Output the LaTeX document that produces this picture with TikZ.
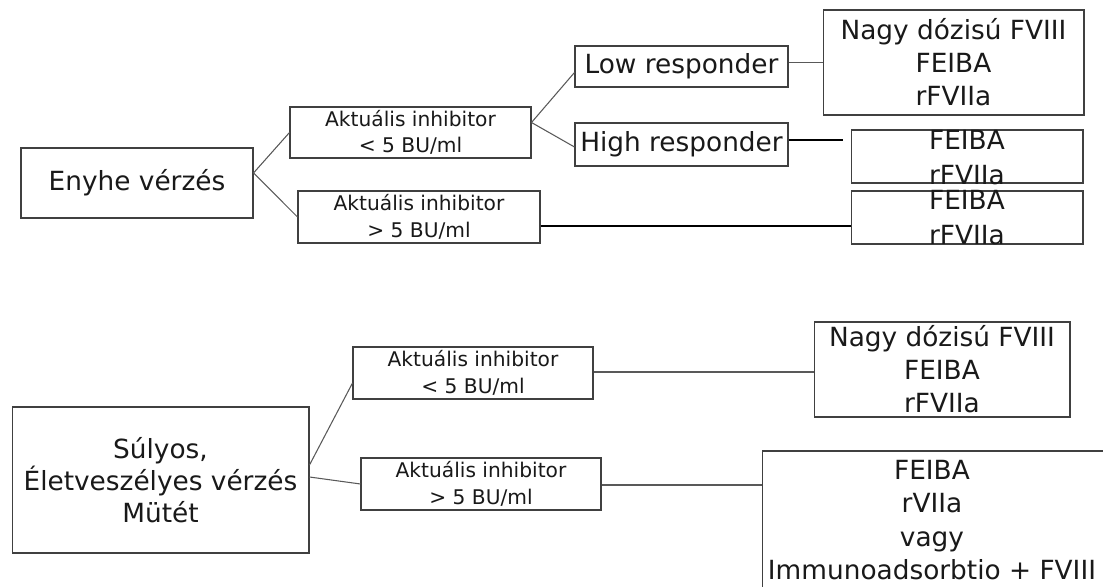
\documentclass[tikz,border=0pt]{standalone}
\usepackage{fontspec}
\setmainfont{DejaVu Sans}
\usetikzlibrary{calc}
\tikzset{
  box/.style={draw=black!75, line width=0.6pt, inner sep=0pt, align=center, text=black!90},
  bigtxt/.style={font=\fontsize{15}{18.7}\selectfont, align=center, text=black!90},
  smalltxt/.style={font=\fontsize{11.5}{15}\selectfont},
  link/.style={draw=black!65, line width=0.6pt},
  heavylink/.style={draw=black, line width=1.1pt}
}
\begin{document}
\begin{tikzpicture}[x=0.02cm,y=-0.02cm]
\clip (0,0) rectangle (1103,587);
\fill[white] (0,0) rectangle (1103,587);

% ---------- top tree ----------
\node[box, bigtxt, minimum width=4.64cm, minimum height=1.4cm] (enyhe) at (137,183) {Enyhe vérzés};
\node[box, smalltxt, minimum width=4.82cm, minimum height=1.02cm] (ltA) at (410.5,132.5) {Aktuális inhibitor\\< 5 BU/ml};
\node[box, smalltxt, minimum width=4.84cm, minimum height=1.04cm] (gtA) at (419,217) {Aktuális inhibitor\\> 5 BU/ml};
\node[box, bigtxt, minimum width=4.26cm, minimum height=0.82cm] (low) at (681.5,66.5) {Low responder};
\node[box, bigtxt, minimum width=4.26cm, minimum height=0.86cm] (high) at (681.5,144.5) {High responder};
\node[box, bigtxt, minimum width=5.22cm, minimum height=2.1cm] (nagyA) at (953.5,62.5) {Nagy dózisú FVIII\\FEIBA\\rFVIIa};
\node[box, minimum width=4.64cm, minimum height=1.06cm] (feibaA) at (967,156.5) {};
\node[bigtxt, font=\fontsize{15}{19.8}\selectfont] at (967,157.5) {FEIBA\\rFVIIa};
\node[box, minimum width=4.64cm, minimum height=1.06cm] (feibaB) at (967,217.5) {};
\node[bigtxt, font=\fontsize{15}{19.8}\selectfont] at (967,217.5) {FEIBA\\rFVIIa};
\coordinate (hend) at (843,140);

\draw[link] ([yshift=0.2cm]enyhe.east) -- (ltA.west);
\draw[link] ([yshift=0.2cm]enyhe.east) -- (gtA.west);
\draw[link] ([yshift=0.2cm]ltA.east) -- ([yshift=-0.12cm]low.west);
\draw[link] ([yshift=0.2cm]ltA.east) -- ([yshift=-0.05cm]high.west);
\draw[link] (low.east |- nagyA.west) -- (nagyA.west);
\draw[heavylink] (high.east |- hend) -- (hend);
\draw[heavylink] ([yshift=-0.18cm]gtA.east) -- ([yshift=-0.18cm]gtA.east -| feibaB.west);

% ---------- bottom tree ----------
\node[box, bigtxt, font=\fontsize{15}{18.3}\selectfont, minimum width=5.94cm, minimum height=2.92cm] (sulyos) at (160.5,480) {Súlyos,\\Életveszélyes vérzés\\Mütét};
\node[box, smalltxt, minimum width=4.8cm, minimum height=1.04cm] (ltB) at (473,373) {Aktuális inhibitor\\< 5 BU/ml};
\node[box, smalltxt, minimum width=4.8cm, minimum height=1.04cm] (gtB) at (481,484) {Aktuális inhibitor\\> 5 BU/ml};
\node[box, bigtxt, minimum width=5.12cm, minimum height=1.9cm] (nagyB) at (942,369.5) {Nagy dózisú FVIII\\FEIBA\\rFVIIa};
\node[box, minimum width=7.06cm, minimum height=2.98cm] (bigB) at (938.5,525.5) {};
\node[bigtxt, font=\fontsize{15}{19}\selectfont] at (932,520) {FEIBA\\rVIIa\\vagy\\Immunoadsorbtio + FVIII};

\draw[link] ([yshift=0.3cm]sulyos.east) -- ([yshift=-0.2cm]ltB.west);
\draw[link] ([yshift=0.06cm]sulyos.east) -- (gtB.west);
\draw[link] ([yshift=0.02cm]ltB.east) -- ([yshift=0.02cm]ltB.east -| nagyB.west);
\draw[link] ([yshift=-0.02cm]gtB.east) -- ([yshift=-0.02cm]gtB.east -| bigB.west);
\end{tikzpicture}
\end{document}
